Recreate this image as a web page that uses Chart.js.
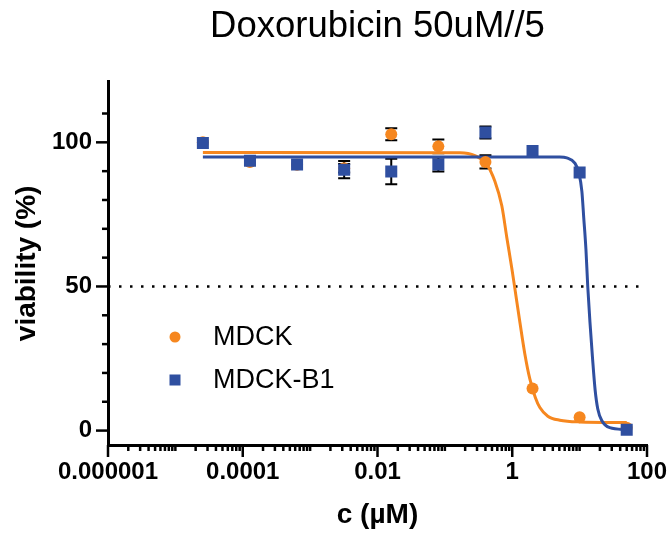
<!DOCTYPE html>
<html lang="en">
<head>
    <meta charset="UTF-8">
    <title>Doxorubicin 50uM//5</title>
    <style>
        html, body { margin: 0; padding: 0; background: #fff; }
        #wrap { width: 669px; height: 534px; }
    </style>
</head>
<body>
    <div id="wrap"><canvas id="myChart" width="669" height="534"></canvas></div>

<script src="https://cdn.jsdelivr.net/npm/chart.js@4.4.1/dist/chart.umd.min.js"></script>

<script>
    // concentrations (uM), 50uM diluted 1:5
    const concs = [0.0000256, 0.000128, 0.00064, 0.0032, 0.016, 0.08, 0.4, 2, 10, 50];

    // viability (%)
    const mdckVals = [100, 93.2, 92.2, 91, 102.8, 98.6, 93.2, 14.6, 4.6, 1];
    const mdckErr  = [0, 0, 0, 1.5, 2.1, 2.4, 2.3, 0, 0, 0];
    const b1Vals   = [99.8, 93.6, 92.3, 90.5, 89.9, 92.3, 103.4, 97, 89.5, 0.3];
    const b1Err    = [0, 0, 0, 3.0, 4.4, 2.4, 2.1, 0, 0, 0];

    // fitted curves, points
    const mdckFitX = [0.0000256, 0.167, 0.279, 0.42, 0.552, 0.70, 0.83, 0.99, 1.09, 1.30, 1.54, 1.82, 2.2, 2.57, 3.37, 5.08, 10, 50];
    const mdckFitY = [96.5, 96.4, 95.4, 92.3, 86.5, 78, 67, 56, 49.5, 37.5, 26.5, 18, 11.5, 8, 5, 3.6, 3, 2.8];
    const b1FitX   = [0.0000256, 5.08, 6.46, 8.49, 9.73, 10.8, 11.5, 12.4, 13.2, 14.2, 15.5, 17.0, 18.6, 21.3, 28, 50];
    const b1FitY   = [94.9, 94.9, 94.6, 92.8, 89.5, 83, 74, 63, 50, 38, 25.5, 14, 7.5, 3.5, 1, 0.3];

    const refLevel = 50;

    const xMin = 0.000001;
    const xMax = 100;
    const xTickValues = [0.000001, 0.0001, 0.01, 1, 100];
    const xTickLabels = ['0.000001', '0.0001', '0.01', '1', '100'];
    const yMin = -5;
    const yMax = 121;
    const yTickValues = [0, 50, 100];
    const yMinorTicks = [0, 10, 20, 30, 40, 50, 60, 70, 80, 90, 100, 110];

    const orange = '#F6871F';
    const blue = '#2F4FA0';
    const fontFam = 'Arial, "Liberation Sans", sans-serif';

    const toPts = (xs, ys) => xs.map((v, i) => ({x: v, y: ys[i]}));

    // all log ticks 1..9 x 10^n between xMin and xMax
    function logTicks() {
        const out = [];
        for (let n = -6; n <= 1; n++) {
            for (let k = 1; k <= 9; k++) out.push({value: parseFloat(k + 'e' + n)});
        }
        out.push({value: xMax});
        return out;
    }

    const errorBars = {
        id: 'errorBars',
        beforeDatasetsDraw(chart) {
            const {ctx, scales: {x, y}} = chart;
            ctx.save();
            ctx.strokeStyle = '#000';
            ctx.lineWidth = 2;
            [[mdckVals, mdckErr], [b1Vals, b1Err]].forEach(([vals, errs]) => {
                concs.forEach((c, i) => {
                    if (!errs[i]) return;
                    const px = x.getPixelForValue(c);
                    const top = y.getPixelForValue(vals[i] + errs[i]);
                    const bot = y.getPixelForValue(vals[i] - errs[i]);
                    ctx.beginPath();
                    ctx.moveTo(px, top); ctx.lineTo(px, bot);
                    ctx.moveTo(px - 6, top); ctx.lineTo(px + 6, top);
                    ctx.moveTo(px - 6, bot); ctx.lineTo(px + 6, bot);
                    ctx.stroke();
                });
            });
            ctx.restore();
        }
    };

    const tickMarks = {
        id: 'tickMarks',
        afterDraw(chart) {
            const {ctx, scales: {x, y}, chartArea} = chart;
            ctx.save();
            ctx.strokeStyle = '#000';
            ctx.lineWidth = 2.5;
            x.ticks.forEach(t => {
                const px = x.getPixelForValue(t.value);
                const len = xTickValues.includes(t.value) ? 12 : 6;
                ctx.beginPath();
                ctx.moveTo(px, chartArea.bottom);
                ctx.lineTo(px, chartArea.bottom + len);
                ctx.stroke();
            });
            y.ticks.forEach(t => {
                const py = y.getPixelForValue(t.value);
                const len = yTickValues.includes(t.value) ? 12 : 6;
                ctx.beginPath();
                ctx.moveTo(chartArea.left, py);
                ctx.lineTo(chartArea.left - len, py);
                ctx.stroke();
            });
            ctx.restore();
        }
    };

    // legend sits inside the plot, left side
    const insideLegend = {
        id: 'insideLegend',
        afterDraw(chart) {
            const {ctx, chartArea} = chart;
            const items = [
                {label: chart.data.datasets[0].label, color: orange, style: 'circle', y: 337},
                {label: chart.data.datasets[1].label, color: blue, style: 'rect', y: 380}
            ];
            ctx.save();
            ctx.font = '27px ' + fontFam;
            ctx.textBaseline = 'middle';
            items.forEach(it => {
                const cx = chartArea.left + 67;
                ctx.fillStyle = it.color;
                if (it.style === 'circle') {
                    ctx.beginPath();
                    ctx.arc(cx, it.y, 5.5, 0, Math.PI * 2);
                    ctx.fill();
                } else {
                    ctx.fillRect(cx - 5.5, it.y - 5.5, 11, 11);
                }
                ctx.fillStyle = '#000';
                ctx.fillText(it.label, chartArea.left + 105, it.y + 1);
            });
            ctx.restore();
        }
    };

    const myChart = new Chart('myChart', {
        type: 'scatter',
        data: {
            datasets: [
                {
                    label: 'MDCK',
                    data: toPts(concs, mdckVals),
                    pointStyle: 'circle',
                    pointRadius: 6,
                    backgroundColor: orange,
                    borderColor: orange,
                    borderWidth: 0,
                    order: 2
                },
                {
                    label: 'MDCK-B1',
                    data: toPts(concs, b1Vals),
                    pointStyle: 'rect',
                    pointRadius: 8.5,
                    backgroundColor: blue,
                    borderColor: blue,
                    borderWidth: 0,
                    order: 1
                },
                {
                    label: 'MDCK fit',
                    data: toPts(mdckFitX, mdckFitY),
                    showLine: true,
                    pointRadius: 0,
                    borderColor: orange,
                    borderWidth: 3,
                    cubicInterpolationMode: 'monotone',
                    order: 3.5
                },
                {
                    label: 'MDCK-B1 fit',
                    data: toPts(b1FitX, b1FitY),
                    showLine: true,
                    pointRadius: 0,
                    borderColor: blue,
                    borderWidth: 3,
                    cubicInterpolationMode: 'monotone',
                    order: 3
                },
                {
                    label: '50%',
                    data: [{x: xMin, y: refLevel}, {x: xMax, y: refLevel}],
                    showLine: true,
                    pointRadius: 0,
                    borderColor: '#000',
                    borderWidth: 2.5,
                    borderDash: [2.5, 8.5],
                    order: 4
                }
            ]
        },
        options: {
            responsive: false,
            animation: false,
            layout: { padding: { right: 22 } },
            plugins: {
                legend: { display: false },
                tooltip: { enabled: false },
                title: {
                    display: true,
                    text: 'Doxorubicin 50uM//5',
                    fullSize: false,
                    color: '#000',
                    font: { family: fontFam, size: 36.5, weight: 'normal' },
                    padding: { top: 5, bottom: 33 }
                }
            },
            scales: {
                x: {
                    type: 'logarithmic',
                    min: xMin,
                    max: xMax,
                    afterBuildTicks: s => { s.ticks = logTicks(); },
                    afterFit: s => { s.height = 89; },
                    grid: { display: true, drawOnChartArea: false, drawTicks: true, tickLength: 12, color: 'rgba(0,0,0,0)', tickColor: 'rgba(0,0,0,0)' },
                    border: { display: true, color: '#000', width: 3 },
                    ticks: {
                        autoSkip: false,
                        maxRotation: 0,
                        padding: 1,
                        color: '#000',
                        font: { family: fontFam, size: 24, weight: 'bold' },
                        callback: v => {
                            const i = xTickValues.indexOf(v);
                            return i >= 0 ? xTickLabels[i] : '';
                        }
                    },
                    title: {
                        display: true,
                        text: 'c (µM)',
                        color: '#000',
                        font: { family: fontFam, size: 28, weight: 'bold' },
                        padding: { top: 0, bottom: 2 }
                    }
                },
                y: {
                    min: yMin,
                    max: yMax,
                    afterBuildTicks: s => { s.ticks = yMinorTicks.map(v => ({value: v})); },
                    afterFit: s => { s.width = 108; },
                    grid: { display: true, drawOnChartArea: false, drawTicks: true, tickLength: 12, color: 'rgba(0,0,0,0)', tickColor: 'rgba(0,0,0,0)' },
                    border: { display: true, color: '#000', width: 3 },
                    ticks: {
                        autoSkip: false,
                        padding: 4,
                        color: '#000',
                        font: { family: fontFam, size: 24, weight: 'bold' },
                        callback: v => yTickValues.includes(v) ? String(v) : ''
                    },
                    title: {
                        display: true,
                        text: 'viability (%)',
                        color: '#000',
                        font: { family: fontFam, size: 28, weight: 'bold' },
                        padding: { top: 10, bottom: 0 }
                    }
                }
            }
        },
        plugins: [errorBars, tickMarks, insideLegend]
    });
</script>
</body>
</html>
